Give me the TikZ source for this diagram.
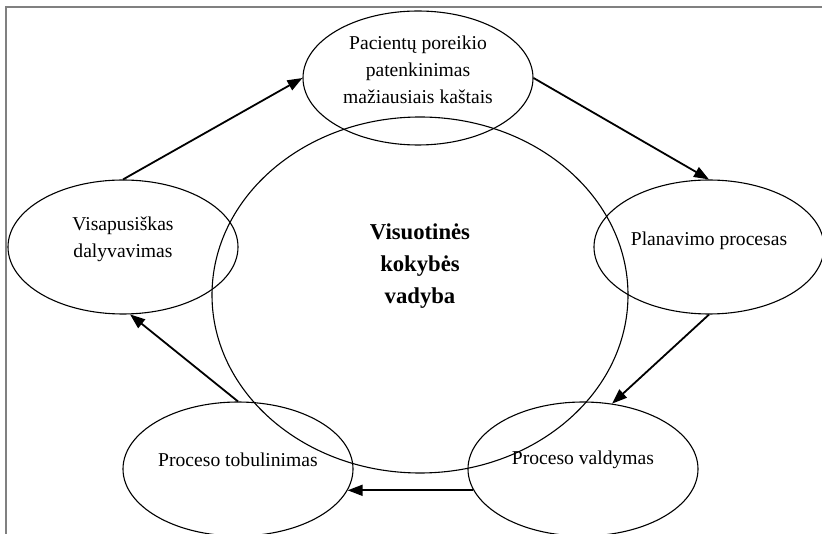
\documentclass[tikz,border=0pt]{standalone}
\usepackage{fontspec}
\setmainfont{Liberation Serif}
\usetikzlibrary{shapes.geometric,arrows.meta}

\tikzset{
  oval/.style={ellipse, draw, line width=1.1pt, inner sep=0pt,
               minimum width=230pt, minimum height=134pt},
  bigoval/.style={ellipse, draw, line width=1.1pt, inner sep=0pt,
               minimum width=416pt, minimum height=356pt},
  lbl/.style={align=center, inner sep=0pt, font=\fontsize{19.6}{27}\selectfont,
              execute at begin node={\baselineskip=27pt}},
  biglbl/.style={align=center, inner sep=0pt, font=\fontsize{22.7}{32}\selectfont\bfseries,
              execute at begin node={\baselineskip=32pt}},
  flow/.style={line width=1.8pt, -{Triangle[length=15pt,width=11pt]}},
  frame/.style={line width=2pt, draw=black!50}
}

\begin{document}
\begin{tikzpicture}[x=1pt, y=-1pt]
  \useasboundingbox (0,0) rectangle (822,534);

  % page frame (top and left edges)
  \coordinate (fbl) at (5.5,534);
  \coordinate (ftl) at (5.5,7.5);
  \coordinate (ftr) at (822,7.5);
  \draw[frame] (fbl) -- (ftl) -- (ftr);

  % outlines
  \node[bigoval] (tqm)   at (420,295) {};
  \node[oval]    (needs) at (418,78)  {};
  \node[oval]    (plan)  at (709,247) {};
  \node[oval]    (part)  at (123,247) {};
  \node[oval]    (impr)  at (238,469) {};
  \node[oval]    (ctrl)  at (583,469) {};

  % labels
  \node[biglbl] (tqmtext)   at (420,266) {Visuotinės\\kokybės\\vadyba};
  \node[lbl]    (needstext) at (418,70)  {Pacientų poreikio\\patenkinimas\\mažiausiais kaštais};
  \node[lbl]    (plantext)  at (709,241) {Planavimo procesas};
  \node[lbl]    (parttext)  at (123,239) {Visapusiškas\\dalyvavimas};
  \node[lbl]    (imprtext)  at (238,460) {Proceso tobulinimas};
  \node[lbl]    (ctrltext)  at (583,460) {Proceso valdymas};

  % cycle
  \draw[flow] (part.north) -- (needs.west);
  \draw[flow] (needs.east) -- (plan.north);
  \draw[flow] (plan.south) -- (ctrl.66);
  \draw[flow] (ctrl.191)   -- (impr.-11);
  \draw[flow] (impr.north) -- (part.-84);
\end{tikzpicture}
\end{document}
